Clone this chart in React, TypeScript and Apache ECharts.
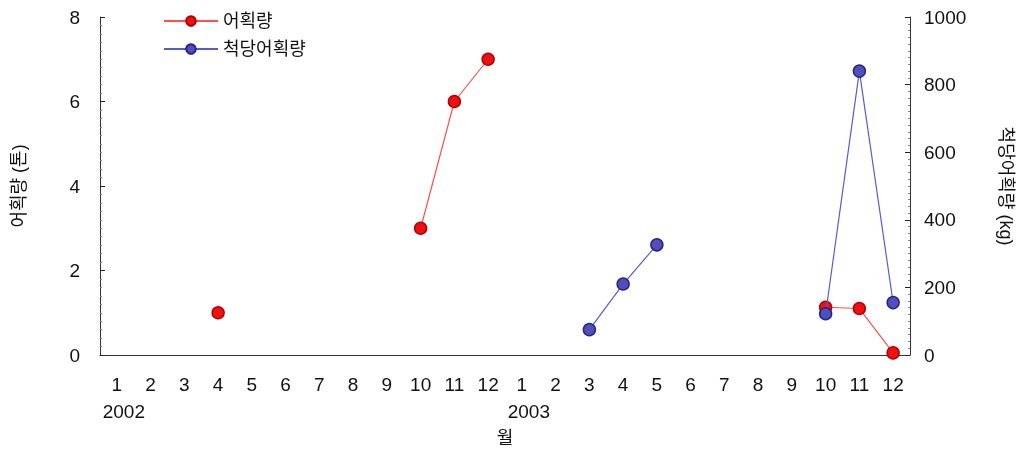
import React, { useEffect, useRef } from "react";
import * as echarts from "echarts";

const months = ["1","2","3","4","5","6","7","8","9","10","11","12","1","2","3","4","5","6","7","8","9","10","11","12"];
const yearLabels: Record<number, string> = { 0: "2002", 12: "2003" };
const catchTon = [null,null,null,1.0,null,null,null,null,null,3.0,6.0,7.0,null,null,null,null,null,null,null,null,null,1.13,1.1,0.05];
const cpueKg = [null,null,null,null,null,null,null,null,null,null,null,null,null,null,75,210,326,null,null,null,null,122,840,155];
const leftTicks = [0, 8, 2];
const rightTicks = [0, 1000, 200];

const FONT = "'Liberation Sans', 'Noto Sans CJK KR', sans-serif";
const FS = 19;

export default function App() {
  const ref = useRef<HTMLDivElement>(null);
  useEffect(() => {
    const chart = echarts.init(ref.current!, null, { renderer: "svg" });
    chart.setOption({
      animation: false,
      textStyle: { fontFamily: FONT },
      grid: { left: 100, right: 108, top: 17, bottom: 103, containLabel: false },
      legend: {
        left: 158,
        top: 7,
        orient: "vertical",
        itemWidth: 54,
        itemHeight: 12,
        itemGap: 10,
        textStyle: { fontSize: 18, color: "#111", fontFamily: FONT },
        data: ["어획량", "척당어획량"],
      },
      xAxis: {
        type: "category",
        data: months,
        boundaryGap: true,
        name: "월",
        nameLocation: "middle",
        nameGap: 74,
        nameTextStyle: { fontSize: 18, color: "#111", fontFamily: FONT },
        axisLine: { lineStyle: { color: "#333", width: 1 } },
        axisTick: { inside: true, length: 5, lineStyle: { color: "#222" } },
        axisLabel: {
          margin: 16,
          interval: 0,
          formatter: (v: string, i: number) =>
            yearLabels[i] ? `{m|${v}}\n{y|${yearLabels[i]}}` : `{m|${v}}`,
          rich: {
            m: { fontSize: FS, color: "#111", fontFamily: FONT, lineHeight: 27 },
            y: { fontSize: FS, color: "#111", fontFamily: FONT, lineHeight: 27, padding: [0, 0, 0, 14] },
          },
        },
      },
      yAxis: [
        {
          type: "value",
          min: leftTicks[0],
          max: leftTicks[1],
          interval: leftTicks[2],
          name: "어획량 (톤)",
          nameLocation: "middle",
          nameGap: 72,
          nameTextStyle: { fontSize: 18, color: "#111", fontFamily: FONT },
          splitLine: { show: false },
          axisLine: { show: true, lineStyle: { color: "#333" } },
          axisTick: { show: true, inside: true, length: 5, lineStyle: { color: "#222" } },
          minorTick: { show: true, splitNumber: 10, length: 2, lineStyle: { color: "#888" } },
          axisLabel: { fontSize: FS, color: "#111", margin: 20, fontFamily: FONT },
        },
        {
          type: "value",
          min: rightTicks[0],
          max: rightTicks[1],
          interval: rightTicks[2],
          position: "right",
          name: "척당어획량 (kg)",
          nameLocation: "middle",
          nameRotate: -90,
          nameGap: 87,
          nameTextStyle: { fontSize: 18, color: "#111", fontFamily: FONT },
          splitLine: { show: false },
          axisLine: { show: true, lineStyle: { color: "#333" } },
          axisTick: { show: true, inside: true, length: 5, lineStyle: { color: "#222" } },
          minorTick: { show: true, splitNumber: 10, length: 2, lineStyle: { color: "#888" } },
          axisLabel: { fontSize: FS, color: "#111", margin: 14, fontFamily: FONT, formatter: (v: number) => String(v) },
        },
      ],
      series: [
        {
          name: "어획량",
          type: "line",
          yAxisIndex: 0,
          data: catchTon,
          connectNulls: false,
          symbol: "circle",
          symbolSize: 12,
          lineStyle: { color: "#ff5050", width: 1.2 },
          itemStyle: { color: "#ee1111", borderColor: "#b80000", borderWidth: 1.5 },
          z: 3,
        },
        {
          name: "척당어획량",
          type: "line",
          yAxisIndex: 1,
          data: cpueKg,
          connectNulls: false,
          symbol: "circle",
          symbolSize: 12,
          lineStyle: { color: "#5a5ad0", width: 1.2 },
          itemStyle: { color: "#5050b8", borderColor: "#25258a", borderWidth: 1.5 },
          z: 4,
        },
      ],
    });
    return () => chart.dispose();
  }, []);
  return <div ref={ref} style={{ position: "fixed", left: 0, top: 0, width: 1023, height: 458 }} />;
}
